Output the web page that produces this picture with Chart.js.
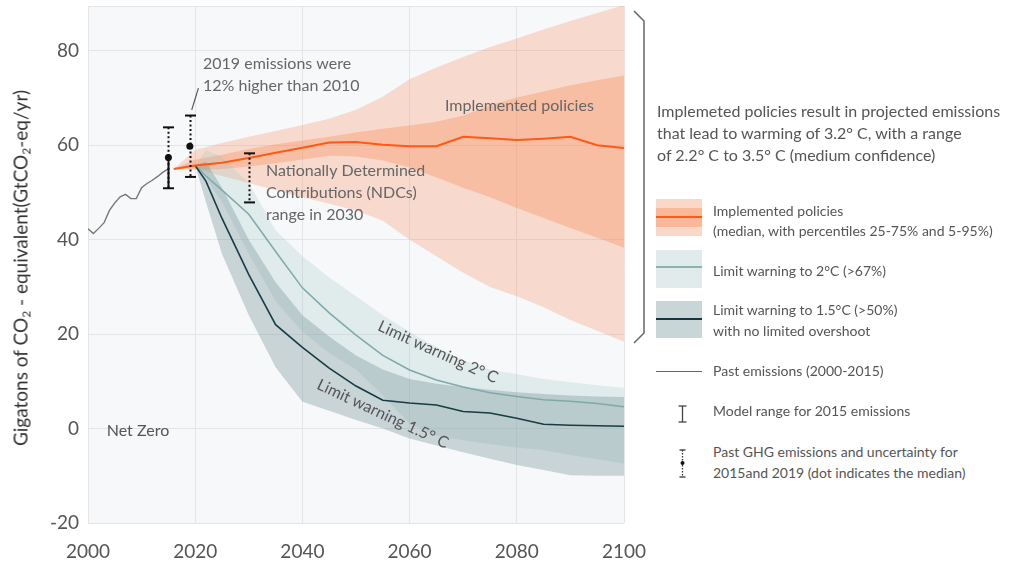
<!DOCTYPE html>
<html>
<head>
<meta charset="utf-8">
<script src="https://cdn.jsdelivr.net/npm/chart.js@4.4.1/dist/chart.umd.min.js"></script>
<style>
html, body { margin: 0; padding: 0; background: #fff; }
#wrap { position: relative; width: 1025px; height: 565px; overflow: hidden; font-family: Lato, "Open Sans", sans-serif; color: #555; }
#chart { position: absolute; left: 0; top: 0; }
.ytitle { position: absolute; left: 21px; top: 268px; transform: translate(-50%, -50%) rotate(-90deg); white-space: nowrap; font-size: 19px; color: #333; }
.ytitle sub { font-size: 12px; vertical-align: -3px; }
.note { position: absolute; left: 657px; top: 100px; font-size: 16px; line-height: 22px; white-space: nowrap; }
.item { position: absolute; left: 713px; font-size: 14px; line-height: 20px; white-space: nowrap; }
.sw { position: absolute; left: 656px; width: 46px; }
#deco { position: absolute; left: 0; top: 0; pointer-events: none; }
</style>
</head>
<body>
<div id="wrap">
  <canvas id="chart" width="660" height="565"></canvas>
  <div class="ytitle">Gigatons of CO<sub>2</sub> - equivalent(GtCO<sub>2</sub>-eq/yr)</div>

  <div class="note">Implemeted policies result in projected emissions<br>that lead to warming of 3.2° C, with a range<br>of 2.2° C to 3.5° C (medium confidence)</div>

  <div class="sw" style="top:199px;height:37px;background:#fad8c8"></div>
  <div class="sw" style="top:208px;height:19px;background:#f9b899"></div>
  <div class="sw" style="top:216px;height:2px;background:#fe5a14"></div>
  <div class="item" style="top:201px">Implemented policies<br>(median, with percentiles 25-75% and 5-95%)</div>

  <div class="sw" style="top:250px;height:38px;background:#e2ebeb"></div>
  <div class="sw" style="top:266px;height:2px;background:#8db3b1"></div>
  <div class="item" style="top:261px">Limit warning to 2°C (&gt;67%)</div>

  <div class="sw" style="top:301px;height:37px;background:#c9d6d8"></div>
  <div class="sw" style="top:318px;height:2px;background:#17363c"></div>
  <div class="item" style="top:299px;line-height:21px">Limit warning to 1.5°C (&gt;50%)<br>with no limited overshoot</div>

  <div class="sw" style="top:371px;height:1px;background:#666"></div>
  <div class="item" style="top:361px">Past emissions (2000-2015)</div>
  <div class="item" style="top:401px">Model range for 2015 emissions</div>
  <div class="item" style="top:441px;line-height:21px">Past GHG emissions and uncertainty for<br>2015and 2019 (dot indicates the median)</div>

  <svg id="deco" width="1025" height="565">
    <polyline points="634,11 644,21 644,333 634,343" fill="none" stroke="#666" stroke-width="1.5"/>
    <line x1="682.5" y1="406" x2="682.5" y2="422" stroke="#444" stroke-width="1.3"/>
    <line x1="678.5" y1="406" x2="686.5" y2="406" stroke="#444" stroke-width="1.3"/>
    <line x1="678.5" y1="422" x2="686.5" y2="422" stroke="#444" stroke-width="1.3"/>
    <line x1="682.5" y1="450" x2="682.5" y2="477" stroke="#333" stroke-width="1.3" stroke-dasharray="1.5,1.5"/>
    <line x1="679.5" y1="450" x2="685.5" y2="450" stroke="#333" stroke-width="1.3"/>
    <line x1="679.5" y1="477" x2="685.5" y2="477" stroke="#333" stroke-width="1.3"/>
    <circle cx="682.5" cy="463" r="2" fill="#111"/>
  </svg>
</div>

<script>
// axis ticks
const X_TICKS = [2000, 2020, 2040, 2060, 2080, 2100];
const Y_TICKS = [-20, 0, 20, 40, 60, 80];

// past emissions 2000-2015
const PAST_YEARS = [2000, 2001, 2002, 2003, 2004, 2005, 2006, 2007, 2008, 2009, 2010, 2011, 2012, 2013, 2014, 2015];
const PAST_EMISSIONS = [42.3, 41.3, 42.4, 43.6, 46.2, 47.8, 49.1, 49.6, 48.7, 48.7, 51.0, 51.9, 52.6, 53.4, 54.3, 55.0];

// implemented policies (median + percentiles)
const POLICY_YEARS = [2016, 2020, 2025, 2030, 2035, 2040, 2045, 2050, 2055, 2060, 2065, 2070, 2075, 2080, 2085, 2090, 2095, 2100];
const POLICY_MEDIAN = [55.0, 55.7, 56.3, 57.3, 58.4, 59.5, 60.6, 60.7, 60.1, 59.8, 59.8, 61.8, 61.5, 61.1, 61.4, 61.8, 60.0, 59.4];
const POLICY_P95 = [55.0, 59.0, 60.5, 61.8, 63.0, 64.3, 65.6, 67.5, 70.3, 74.0, 76.5, 78.7, 80.8, 82.6, 84.5, 86.3, 88.0, 89.7];
const POLICY_P75 = [55.0, 57.0, 58.0, 59.2, 60.2, 61.0, 61.8, 62.7, 63.5, 64.2, 65.0, 66.3, 68.5, 70.1, 71.4, 72.7, 73.8, 74.8];
const POLICY_P25 = [55.0, 54.8, 55.0, 55.5, 56.2, 57.0, 57.8, 57.6, 56.8, 55.3, 53.2, 51.0, 49.0, 46.7, 44.6, 42.5, 40.4, 38.3];
const POLICY_P5 = [55.0, 55.0, 53.5, 52.0, 50.5, 49.0, 47.6, 46.2, 44.0, 40.0, 36.5, 33.0, 30.0, 28.0, 25.7, 23.0, 20.7, 18.4];

// limit warming pathways
const LIMIT_YEARS = [2020, 2022, 2025, 2030, 2035, 2040, 2045, 2050, 2055, 2060, 2065, 2070, 2075, 2080, 2085, 2090, 2095, 2100];
const LIMIT2_MEDIAN = [55.7, 53.5, 50.5, 45.4, 37.5, 29.8, 24.5, 19.8, 15.5, 12.4, 10.3, 8.8, 7.6, 6.8, 6.1, 5.8, 5.3, 4.6];
const LIMIT2_HIGH = [55.7, 59.0, 57.5, 52.0, 42.0, 36.5, 32.0, 28.0, 24.0, 20.5, 17.2, 14.5, 12.5, 11.5, 10.5, 9.8, 9.2, 8.6];
const LIMIT2_LOW = [55.7, 53.0, 48.0, 37.0, 27.0, 20.5, 16.0, 12.5, 7.0, 1.0, -1.5, -2.5, -3.3, -4.0, -4.6, -5.6, -6.5, -7.4];
const LIMIT15_MEDIAN = [55.7, 52.4, 44.5, 32.6, 22.0, 17.2, 12.8, 9.0, 6.0, 5.4, 5.0, 3.6, 3.3, 2.2, 0.9, 0.7, 0.6, 0.5];
const LIMIT15_HIGH = [55.7, 56.5, 51.0, 40.0, 31.0, 24.0, 19.5, 15.5, 12.5, 10.5, 9.5, 8.8, 8.2, 7.7, 7.3, 7.0, 6.8, 6.7];
const LIMIT15_LOW = [55.7, 48.0, 37.0, 24.0, 13.0, 5.7, 3.8, 1.8, 0.0, -2.1, -3.6, -5.0, -6.4, -7.7, -8.8, -9.9, -10.0, -10.0];

// uncertainty bars (2015, 2019 past GHG, 2030 NDC range)
const UNC_YEARS = [2015, 2019, 2030];
const UNC_LOW = [50.9, 53.3, 47.9];
const UNC_HIGH = [63.8, 66.3, 58.3];
const UNC_MEDIAN_YEARS = [2015, 2019];
const UNC_MEDIAN = [57.4, 59.8];
const MODEL_YEARS = [2015];
const MODEL_LOW = [50.9];
const MODEL_HIGH = [57.4];

const pts = (xs, ys) => xs.map((x, i) => ({ x, y: ys[i] }));

const ORANGE_LIGHT = 'rgba(250,140,90,0.28)';
const ORANGE_DARK = 'rgba(250,140,90,0.36)';
const TEAL_2 = 'rgba(160,196,196,0.25)';
const TEAL_15 = 'rgba(110,140,145,0.33)';

function band(data, fill, bg, order) {
    return { data, fill, backgroundColor: bg, borderWidth: 0, pointRadius: 0, order };
}

const plotBg = {
    id: 'plotBg',
    beforeDraw(chart) {
        const { ctx, chartArea: a } = chart;
        ctx.save();
        ctx.fillStyle = '#f6f8fa';
        ctx.fillRect(a.left, a.top, a.right - a.left, a.bottom - a.top);
        ctx.strokeStyle = '#e3e5e7';
        ctx.lineWidth = 1;
        ctx.beginPath();
        ctx.moveTo(a.left, a.top + 0.5);
        ctx.lineTo(a.right, a.top + 0.5);
        ctx.stroke();
        ctx.restore();
    }
};

const overlays = {
    id: 'overlays',
    afterDatasetsDraw(chart) {
        const { ctx } = chart;
        const x = chart.scales.x, y = chart.scales.y;
        const px = v => x.getPixelForValue(v), py = v => y.getPixelForValue(v);
        ctx.save();
        ctx.strokeStyle = '#111';
        ctx.lineWidth = 2;
        // dotted uncertainty bars
        UNC_YEARS.forEach((yr, i) => {
            const cx = Math.round(px(yr)) + 0.5;
            ctx.setLineDash([2, 2.5]);
            ctx.beginPath();
            ctx.moveTo(cx, py(UNC_HIGH[i]));
            ctx.lineTo(cx, py(UNC_LOW[i]));
            ctx.stroke();
            ctx.setLineDash([]);
            [UNC_HIGH[i], UNC_LOW[i]].forEach(v => {
                ctx.beginPath();
                ctx.moveTo(cx - 5.5, py(v));
                ctx.lineTo(cx + 5.5, py(v));
                ctx.stroke();
            });
        });
        // solid model range
        MODEL_YEARS.forEach((yr, i) => {
            const cx = Math.round(px(yr)) + 0.5;
            ctx.beginPath();
            ctx.moveTo(cx, py(MODEL_HIGH[i]));
            ctx.lineTo(cx, py(MODEL_LOW[i]));
            ctx.stroke();
        });
        // leader line for the 2019 note
        ctx.strokeStyle = '#555';
        ctx.lineWidth = 1.2;
        ctx.beginPath();
        ctx.moveTo(px(2019.35), py(67.5));
        ctx.lineTo(px(2020.6), py(72.1));
        ctx.stroke();

        // text notes
        ctx.fillStyle = '#666';
        ctx.font = '16px Lato';
        ctx.textAlign = 'left';
        ctx.textBaseline = 'middle';
        ctx.fillText('2019 emissions were', px(2021.45), py(77.2));
        ctx.fillText('12% higher than 2010', px(2021.45), py(72.6));
        ctx.fillText('Nationally Determined', px(2033.2), py(54.6));
        ctx.fillText('Contributions (NDCs)', px(2033.2), py(49.9));
        ctx.fillText('range in 2030', px(2033.2), py(45.3));
        ctx.fillText('Implemented policies', px(2066.6), py(68.3));
        ctx.fillStyle = '#555';
        ctx.fillText('Net Zero', px(2003.5), py(-0.4));

        ctx.textAlign = 'center';
        ctx.fillStyle = '#555';
        ctx.save();
        ctx.translate(px(2065.3), py(16.2));
        ctx.rotate(24.3 * Math.PI / 180);
        ctx.fillText('Limit warning 2° C', 0, 0);
        ctx.restore();
        ctx.save();
        ctx.translate(px(2055.0), py(3.1));
        ctx.rotate(25 * Math.PI / 180);
        ctx.fillText('Limit warning 1.5° C', 0, 0);
        ctx.restore();
        ctx.restore();
    }
};

Chart.defaults.font.family = 'Lato';

new Chart(document.getElementById('chart'), {
    type: 'line',
    data: {
        datasets: [
            band(pts(POLICY_YEARS, POLICY_P95), '+1', ORANGE_LIGHT, 10),
            band(pts(POLICY_YEARS, POLICY_P5), false, ORANGE_LIGHT, 10),
            band(pts(POLICY_YEARS, POLICY_P75), '+1', ORANGE_DARK, 9),
            band(pts(POLICY_YEARS, POLICY_P25), false, ORANGE_DARK, 9),
            band(pts(LIMIT_YEARS, LIMIT2_HIGH), '+1', TEAL_2, 8),
            band(pts(LIMIT_YEARS, LIMIT2_LOW), false, TEAL_2, 8),
            band(pts(LIMIT_YEARS, LIMIT15_HIGH), '+1', TEAL_15, 7),
            band(pts(LIMIT_YEARS, LIMIT15_LOW), false, TEAL_15, 7),
            { data: pts(PAST_YEARS, PAST_EMISSIONS), borderColor: '#777', borderWidth: 1.4, pointRadius: 0, fill: false, order: 6 },
            { data: pts(LIMIT_YEARS, LIMIT2_MEDIAN), borderColor: '#7fa9a8', borderWidth: 1.5, pointRadius: 0, fill: false, order: 5 },
            { data: pts(LIMIT_YEARS, LIMIT15_MEDIAN), borderColor: '#163c44', borderWidth: 1.6, pointRadius: 0, fill: false, order: 4 },
            { data: pts(POLICY_YEARS, POLICY_MEDIAN), borderColor: '#fe5a14', borderWidth: 2, pointRadius: 0, fill: false, order: 3 },
            { data: pts(UNC_MEDIAN_YEARS, UNC_MEDIAN), showLine: false, pointRadius: 3.5, pointBackgroundColor: '#111', pointBorderWidth: 0, order: 1 }
        ]
    },
    options: {
        responsive: false,
        devicePixelRatio: 1,
        animation: false,
        layout: { padding: { top: 6, left: 0, right: 36, bottom: 0 } },
        plugins: { legend: { display: false }, tooltip: { enabled: false } },
        elements: { line: { tension: 0 } },
        scales: {
            x: {
                type: 'linear', min: 2000, max: 2100,
                ticks: { color: '#555', font: { size: 19 }, padding: 17, includeBounds: false, callback: v => String(v) },
                grid: { color: '#e3e5e7', drawTicks: false },
                border: { display: false },
                afterBuildTicks: s => { s.ticks = X_TICKS.map(v => ({ value: v })); },
                afterFit: s => { s.height = 42; s.paddingLeft = 0; s.paddingRight = 0; }
            },
            y: {
                type: 'linear', min: -20, max: 89.5,
                ticks: { color: '#555', font: { size: 19 }, padding: 9, includeBounds: false },
                grid: { color: '#e3e5e7', drawTicks: false },
                border: { display: false },
                afterBuildTicks: s => { s.ticks = Y_TICKS.map(v => ({ value: v })); },
                afterFit: s => { s.width = 88; s.paddingTop = 0; s.paddingBottom = 0; }
            }
        }
    },
    plugins: [plotBg, overlays]
});
</script>
</body>
</html>
